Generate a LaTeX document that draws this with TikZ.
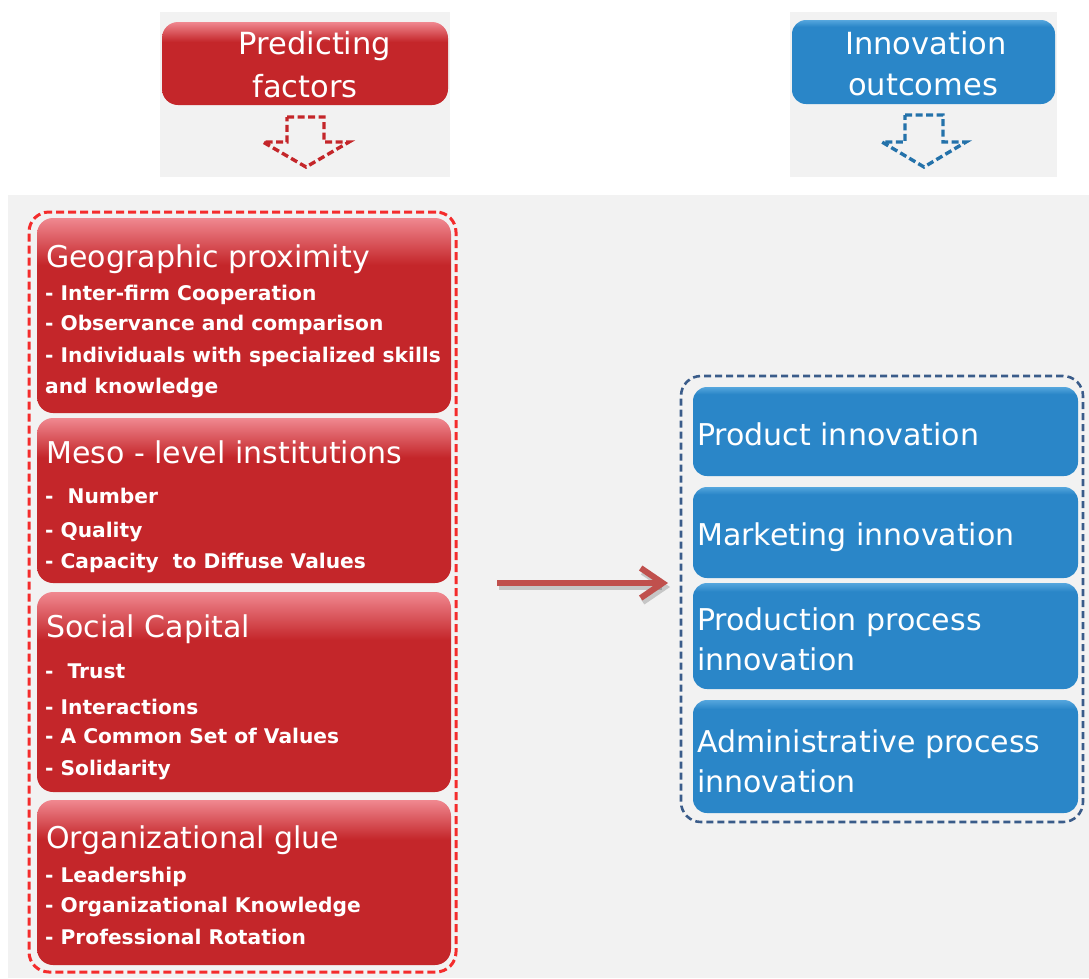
\documentclass[tikz,border=0pt]{standalone}
\usepackage{fontspec}
\setmainfont{DejaVu Sans}
\usetikzlibrary{arrows.meta}
\definecolor{bgray}{HTML}{F2F2F2}
\definecolor{rbox}{HTML}{C4262A}
\definecolor{rtop}{HTML}{F08890}
\definecolor{rdash}{HTML}{F42C2C}
\definecolor{bbox}{HTML}{2A86C8}
\definecolor{btop}{HTML}{55A6DD}
\definecolor{bdash}{HTML}{3A5C8A}
\definecolor{arr}{HTML}{C0504D}
\pgfdeclareverticalshading{redgloss}{100bp}{color(0bp)=(rbox); color(63bp)=(rbox); color(75bp)=(rtop); color(100bp)=(rtop)}
\pgfdeclareverticalshading{bluegloss}{100bp}{color(0bp)=(bbox); color(71bp)=(bbox); color(75bp)=(btop); color(100bp)=(btop)}
\begin{document}
\begin{tikzpicture}[x=1pt,y=-1pt,
  panel/.style={fill=bgray,draw=none},
  box/.style={anchor=north west,inner sep=0pt,outer sep=0pt,draw=none},
  redbox/.style={box,rounded corners=16pt,shading=redgloss},
  bluebox/.style={box,rounded corners=14pt,shading=bluegloss},
  redframe/.style={box,draw=rdash,line width=3pt,dash pattern=on 8pt off 4pt,rounded corners=20pt},
  blueframe/.style={box,draw=bdash,line width=2.6pt,dash pattern=on 7pt off 4pt,rounded corners=20pt},
  title/.style={anchor=base west,inner sep=0pt,text=white,font=\fontsize{30}{36}\selectfont},
  item/.style={anchor=base west,inner sep=0pt,text=white,font=\bfseries\fontsize{20.2}{24}\selectfont},
  head/.style={anchor=base,inner sep=0pt,text=white,font=\fontsize{30.5}{36}\selectfont},
  hollow/.style={line width=3.4pt,dash pattern=on 7pt off 3.5pt,line join=miter},
  bigarrow/.style={draw=arr,line width=6pt,-{Straight Barb[length=22pt 0 0,width=30pt 0 0]}},
]
\useasboundingbox (0,0) rectangle (1089,978);
\fill[white] (0,0) rectangle (1089,978);
% panels
\fill[panel] (160,12) rectangle (450,177);
\fill[panel] (790,12) rectangle (1057,177);
\fill[panel] (8,195) rectangle (1089,978);
% headers
\node[redbox,minimum width=286pt,minimum height=83pt] (hr) at (162,22) {};
\node[bluebox,minimum width=263pt,minimum height=84pt] (hb) at (792,20) {};
\node[head] (hr1) at (315,54) {Predicting};
\node[head] (hr2) at (305,97) {factors};
\node[head] (hb1) at (926,54) {Innovation};
\node[head] (hb2) at (923,95) {outcomes};
% hollow dashed arrows
\draw[hollow,draw=rbox] (287,117) -- (324,117) -- (324,142) -- (349,142) -- (306,167) -- (263,142) -- (287,142) -- cycle;
\draw[hollow,draw=bbox!85!black] (905,115) -- (943,115) -- (943,142) -- (966,142) -- (924,167) -- (882,142) -- (905,142) -- cycle;
% frames
\node[redframe,minimum width=427pt,minimum height=760pt] (rc) at (29,212) {};
\node[blueframe,minimum width=402pt,minimum height=446pt] (bc) at (681,376) {};
% red boxes
\node[redbox,minimum width=414pt,minimum height=195pt] (r1) at (37,218) {};
\node[redbox,minimum width=414pt,minimum height=165pt] (r2) at (37,418) {};
\node[redbox,minimum width=414pt,minimum height=200pt] (r3) at (37,592) {};
\node[redbox,minimum width=414pt,minimum height=165pt] (r4) at (37,800) {};
% red texts
\node[title] (t1) at (46,267) {Geographic proximity};
\node[item] (t1a) at (45,300) {- Inter-firm Cooperation};
\node[item] (t1b) at (45,330) {- Observance and comparison};
\node[item] (t1c) at (45,362) {- Individuals with specialized skills};
\node[item] (t1d) at (45,393) {and knowledge};
\node[title] (t2) at (46,463) {Meso - level institutions};
\node[item] (t2a) at (45,503) {-~~Number};
\node[item] (t2b) at (45,537) {- Quality};
\node[item] (t2c) at (45,568) {- Capacity~~to Diffuse Values};
\node[title] (t3) at (46,637) {Social Capital};
\node[item] (t3a) at (45,678) {-~~Trust};
\node[item] (t3b) at (45,714) {- Interactions};
\node[item] (t3c) at (45,743) {- A Common Set of Values};
\node[item] (t3d) at (45,775) {- Solidarity};
\node[title] (t4) at (46,848) {Organizational glue};
\node[item] (t4a) at (45,882) {- Leadership};
\node[item] (t4b) at (45,912) {- Organizational Knowledge};
\node[item] (t4c) at (45,944) {- Professional Rotation};
% blue boxes
\node[bluebox,minimum width=385pt,minimum height=89pt] (b1) at (693,387) {};
\node[bluebox,minimum width=385pt,minimum height=91pt] (b2) at (693,487) {};
\node[bluebox,minimum width=385pt,minimum height=106pt] (b3) at (693,583) {};
\node[bluebox,minimum width=385pt,minimum height=113pt] (b4) at (693,700) {};
\node[title] (u1) at (697,445) {Product innovation};
\node[title] (u2) at (697,545) {Marketing innovation};
\node[title] (u3) at (697,630) {Production process};
\node[title] (u3b) at (697,670) {innovation};
\node[title] (u4) at (697,752) {Administrative process};
\node[title] (u4b) at (697,792) {innovation};
% main arrow
\coordinate (as) at (497,583);
\coordinate (ae) at (668,583);
\draw[bigarrow,draw=black,opacity=0.18] ([shift={(2pt,-4pt)}]as) -- ([shift={(2pt,-4pt)}]ae);
\draw[bigarrow] (as) -- (ae);
\end{tikzpicture}
\end{document}
